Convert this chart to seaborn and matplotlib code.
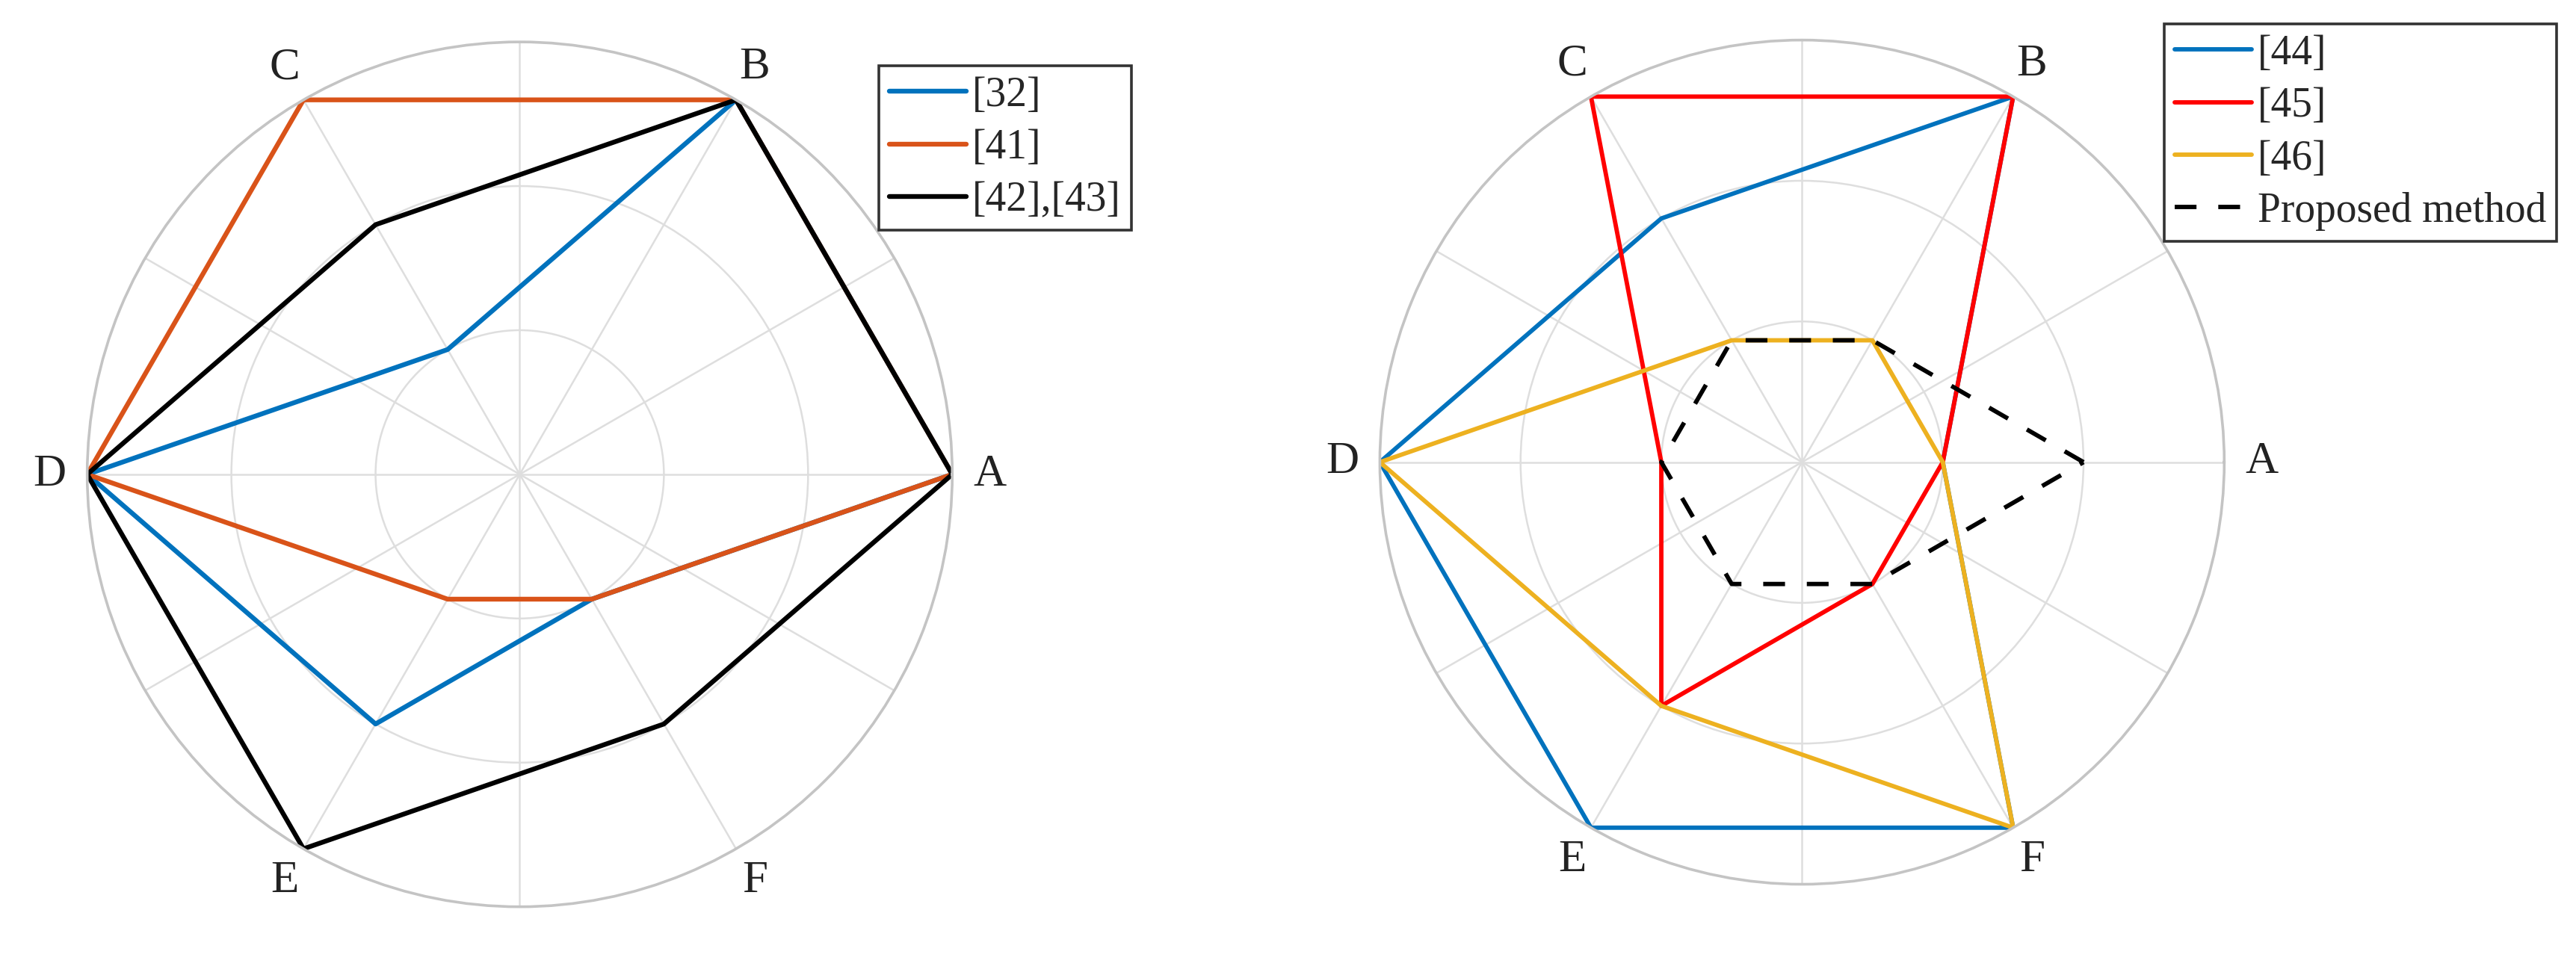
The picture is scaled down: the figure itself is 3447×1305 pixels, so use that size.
# radar charts comparing methods on criteria A-F
import numpy as np
import pandas as pd
import matplotlib
matplotlib.use("Agg")
import matplotlib.pyplot as plt
import seaborn as sns

# criteria around the circle, counter-clockwise from the right
criteria = ["A", "B", "C", "D", "E", "F"]

# left chart
left_methods = ["[32]", "[41]", "[42],[43]"]
ref32 = [3, 3, 1, 3, 2, 1]
ref41 = [3, 3, 3, 3, 1, 1]
ref42_43 = [3, 3, 2, 3, 3, 2]
left_colors = ["#0072BD", "#D95319", "#000000"]

# right chart
right_methods = ["[44]", "[45]", "[46]", "Proposed method"]
ref44 = [1, 3, 2, 3, 3, 3]
ref45 = [1, 3, 3, 1, 2, 1]
ref46 = [1, 1, 1, 3, 2, 3]
proposed = [2, 1, 1, 1, 1, 1]
right_colors = ["#0072BD", "#FF0000", "#EDB120", "#000000"]

sns.set_theme(style="white")
plt.rcParams["font.family"] = ["Liberation Serif", "DejaVu Serif"]


def to_frame(methods, series):
    """long table, each polygon closed by repeating its first point"""
    n = len(criteria)
    theta = np.deg2rad(np.arange(n + 1) * 360.0 / n)
    rows = []
    for name, vals in zip(methods, series):
        closed = list(vals) + [vals[0]]
        for t, v in zip(theta, closed):
            rows.append({"method": name, "theta": t, "score": v})
    return pd.DataFrame(rows)


def style_radar(ax):
    ax.set_ylim(0, 3)
    ax.set_yticks([1, 2])
    ax.set_yticklabels([])
    ticks = np.arange(0, 360, 30)
    ax.set_xticks(np.deg2rad(ticks))
    labels = []
    for i, t in enumerate(ticks):
        labels.append(criteria[i // 2] if i % 2 == 0 else "")
    ax.set_xticklabels(labels, fontsize=22, color="#222222")
    ax.tick_params(axis="x", pad=5)
    ax.grid(True, color="#dedede", linewidth=0.9)
    ax.spines["polar"].set_color("#c4c4c4")
    ax.spines["polar"].set_linewidth(1.3)
    ax.set_xlabel("")
    ax.set_ylabel("")


fig = plt.figure(figsize=(17.24, 6.525), dpi=200)
ax1 = fig.add_axes([0.0337, 0.070, 0.336, 0.887], projection="polar")
ax2 = fig.add_axes([0.5355, 0.093, 0.3277, 0.866], projection="polar")

df_left = to_frame(left_methods, [ref32, ref41, ref42_43])
sns.lineplot(data=df_left, x="theta", y="score", hue="method",
             palette=left_colors, sort=False, estimator=None,
             linewidth=2.3, ax=ax1)

df_right = to_frame(right_methods, [ref44, ref45, ref46, proposed])
sns.lineplot(data=df_right, x="theta", y="score", hue="method", style="method",
             palette=right_colors, sort=False, estimator=None,
             dashes={"[44]": "", "[45]": "", "[46]": "", "Proposed method": (5, 5)},
             linewidth=2.1, ax=ax2)

for ax in (ax1, ax2):
    style_radar(ax)

legend_kw = dict(loc="upper left", bbox_transform=fig.transFigure, fontsize=20,
                 frameon=True, fancybox=False, framealpha=1, edgecolor="#333333",
                 handlelength=1.85, handletextpad=0.15, labelspacing=0.33,
                 borderpad=0.25, borderaxespad=0)

h, l = ax1.get_legend_handles_labels()
leg1 = ax1.legend(h, l, bbox_to_anchor=(0.3411, 0.9326), **legend_kw)
h, l = ax2.get_legend_handles_labels()
leg2 = ax2.legend(h, l, bbox_to_anchor=(0.8399, 0.9755), **legend_kw)
for leg in (leg1, leg2):
    leg.get_frame().set_linewidth(1.3)

fig.savefig("out.png", dpi=200, facecolor="white")
